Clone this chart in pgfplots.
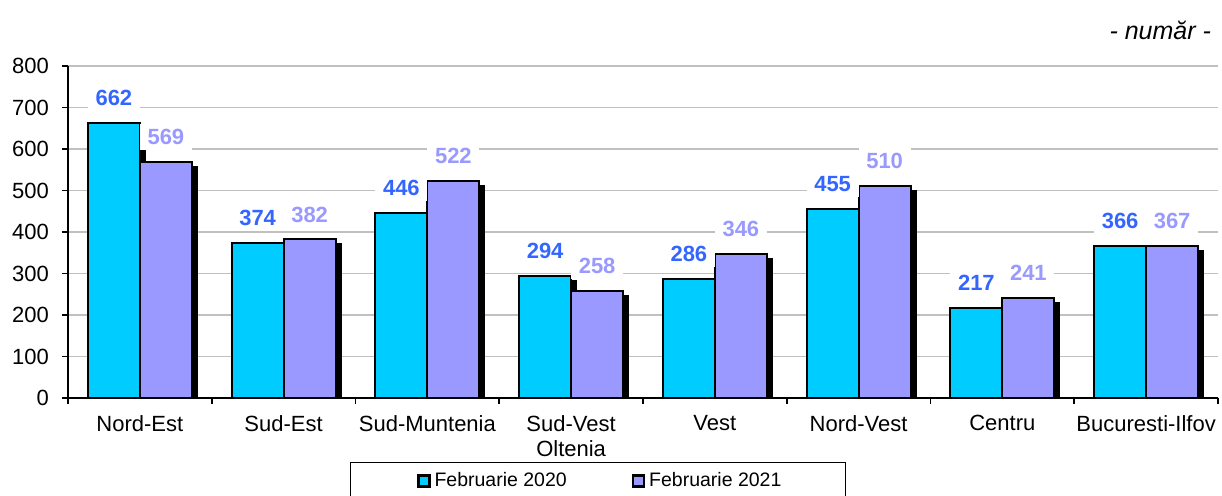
\documentclass[border=0pt]{standalone}
\usepackage{fontspec}
\setmainfont{Liberation Sans}
\usepackage{pgfplots}
\usepackage{pgfplotstable}
\pgfplotsset{compat=1.18}

\definecolor{barcyan}{RGB}{0,204,255}
\definecolor{barlav}{RGB}{153,153,255}
\definecolor{lblblue}{RGB}{51,102,255}
\definecolor{gridgray}{RGB}{192,192,192}

% regiuni de dezvoltare, febr. 2020 / febr. 2021
\pgfplotstableread{
idx y2020 y2021
0 662 569
1 374 382
2 446 522
3 294 258
4 286 346
5 455 510
6 217 241
7 366 367
}\datatable

\begin{document}
\begin{tikzpicture}
\begin{axis}[
    at={(0,0)}, anchor=south west,
    scale only axis, width=575pt, height=166pt,
    ybar, bar width=26pt,
    xmin=-0.5, xmax=7.5, ymin=0, ymax=800,
    axis x line*=bottom, axis y line*=left,
    axis line style={line width=0.8pt},
    xtick={-0.5,0.5,...,7.5}, xticklabels={{},{},{},{},{},{},{},{},{}},
    extra x ticks={0,...,7},
    extra x tick labels={Nord-Est,Sud-Est,Sud-Muntenia,{Sud-Vest\\Oltenia},Vest,Nord-Vest,Centru,Bucuresti-Ilfov},
    extra x tick style={major tick length=0pt, grid=none,
        xticklabel style={align=center, yshift=-5pt}},
    ytick={0,100,...,800},
    tick align=outside, major tick length=3pt,
    tick style={black, line width=0.8pt},
    yticklabel style={xshift=-3pt},
    ymajorgrids, grid style={gridgray, line width=0.8pt},
    /pgf/number format/assume math mode=true,
    ticklabel style={font=\fontsize{11}{12.5}\selectfont},
    nodes near coords,
    every node near coord/.append style={font=\fontsize{11}{13}\selectfont\bfseries,
        yshift=5.5pt, fill=white, minimum width=26pt, minimum height=13pt, inner sep=0pt},
    legend style={at={(0.461,-0.193)}, anchor=north, legend columns=2,
        draw=black, line width=0.5pt, font=\fontsize{9.75}{12}\selectfont,
        inner xsep=30pt, inner ysep=3pt,
        /tikz/every even column/.append style={column sep=30.5pt}},
]
\addplot+[forget plot, bar shift=-13pt, fill=barcyan, draw=black, line width=1pt,
    preaction={fill=black, transform canvas={xshift=2.5pt,yshift=-2.5pt}},
    every node near coord/.append style={text=lblblue}]
    table[x=idx, y=y2020] {\datatable};
\addplot+[forget plot, bar shift=13pt, fill=barlav, draw=black, line width=1pt,
    preaction={fill=black, transform canvas={xshift=2.5pt,yshift=-2.5pt}},
    every node near coord/.append style={text=barlav}]
    table[x=idx, y=y2021] {\datatable};
\addlegendimage{legend image code/.code={\path (-3.5pt,0pt);
    \draw[fill=barcyan, draw=black, line width=1.2pt] (0pt,-2.75pt) rectangle (5.5pt,2.75pt);}}
\addlegendentry{Februarie 2020}
\addlegendimage{legend image code/.code={\draw[fill=barlav, draw=black, line width=1.2pt] (0pt,-2.75pt) rectangle (5.5pt,2.75pt);}}
\addlegendentry{Februarie 2021}
\end{axis}
\node[anchor=east, font=\fontsize{12.5}{14}\selectfont\itshape] at (575pt,184pt) {- număr -};
\pgfresetboundingbox
\useasboundingbox (-34pt,-48.5pt) rectangle (577pt,199pt);
\end{tikzpicture}
\end{document}
